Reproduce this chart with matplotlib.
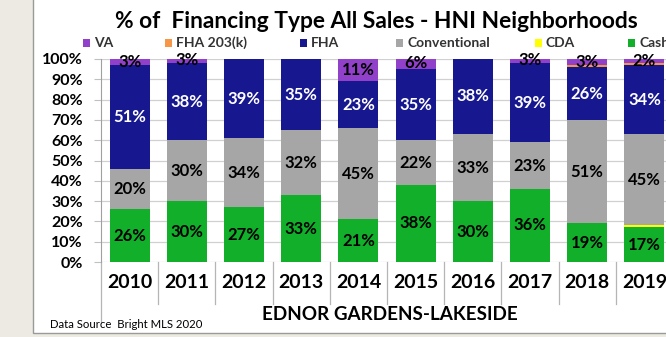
import numpy as np
import matplotlib
matplotlib.use("Agg")
import matplotlib.pyplot as plt
from matplotlib.patches import Rectangle
from matplotlib.transforms import blended_transform_factory

plt.rcParams['font.family'] = ['Lato', 'DejaVu Sans']

years = ['2010', '2011', '2012', '2013', '2014', '2015', '2016', '2017', '2018', '2019']
# percent of sales by financing type, stacked bottom to top
cash = [26, 30, 27, 33, 21, 38, 30, 36, 19, 17]
cda = [0, 0, 0, 0, 0, 0, 0, 0, 0, 1]
conventional = [20, 30, 34, 32, 45, 22, 33, 23, 51, 45]
fha = [51, 38, 39, 35, 23, 35, 38, 39, 26, 34]
fha203k = [0, 0, 0, 0, 0, 0, 0, 0, 1, 1]
va = [3, 3, 0, 0, 11, 6, 0, 3, 3, 2]

series = [
    ('Cash', cash, '#12AF2B', 'black'),
    ('CDA', cda, '#FFFF00', 'black'),
    ('Conventional', conventional, '#A6A6A6', 'black'),
    ('FHA', fha, '#17178F', 'white'),
    ('FHA 203(k)', fha203k, '#F79646', 'black'),
    ('VA', va, '#9140C9', 'black'),
]

W, H = 666, 337
fig = plt.figure(figsize=(W / 100, H / 100), dpi=100, facecolor='#ECEAE2')

def px(x, y):
    return x / W, 1 - y / H

# white chart panel
x0, y0 = px(33, 333)
fig.patches.append(Rectangle((x0, y0), 1.2 - x0, 1.2 - y0, transform=fig.transFigure,
                             facecolor='white', edgecolor='#9A9A9A', lw=1.0, zorder=-5))

left, top, bottom = 101, 59, 262
right = left + 57.2 * 10
ax = fig.add_axes([left / W, 1 - bottom / H, (right - left) / W, (bottom - top) / H])
ax.set_zorder(2)
ax.set_facecolor('white')

x = np.arange(len(years))
base = np.zeros(len(years))
for name, vals, color, tcol in series:
    vals = np.array(vals, dtype=float)
    ax.bar(x, vals, 0.7, bottom=base, color=color, zorder=2)
    for i, v in enumerate(vals):
        if v >= 2:
            ax.text(x[i], base[i] + v / 2, '%d%%' % v, ha='center', va='center',
                    color=tcol, fontsize=12, fontweight='bold', zorder=3)
    base += vals

ax.set_xlim(-0.5, len(years) - 0.5)
ax.set_ylim(0, 100)
ax.set_yticks(np.arange(0, 101, 10))
ax.set_yticklabels(['%d%%' % v for v in range(0, 101, 10)], fontsize=11.5, fontweight='bold')
ax.yaxis.grid(True, color='#D0D0D0', lw=0.9, zorder=1)
ax.tick_params(axis='y', length=5, color='#C0C0C0', pad=8)
ax.set_xticks([])
for s in ['top', 'right', 'bottom']:
    ax.spines[s].set_visible(False)
ax.spines['left'].set_color('#A0A0A0')

# category axis with separators
tr = blended_transform_factory(ax.transData, ax.transAxes)
sep_low = -(304 - bottom) / (bottom - top)
for k in range(len(years) + 1):
    ylo = -(322 - bottom) / (bottom - top) if k == 0 else sep_low
    ax.plot([k - 0.5, k - 0.5], [0, ylo], transform=tr, color='#B5B5B5', lw=0.9, clip_on=False)
for i, yr in enumerate(years):
    ax.text(i, -(282 - bottom) / (bottom - top), yr, transform=tr, ha='center', va='center',
            fontsize=14, fontweight='bold')

fig.text(*px(376, 21), '% of  Financing Type All Sales - HNI Neighborhoods', ha='center',
         va='center', fontsize=16.4, fontweight='bold')
fig.text(*px(390, 314), 'EDNOR GARDENS-LAKESIDE', ha='center', va='center',
         fontsize=13.6, fontweight='bold')
fig.text(*px(50, 325), 'Data Source  Bright MLS 2020', ha='left', va='center', fontsize=8.2)

# legend row
legend_pos = [('VA', 86), ('FHA 203(k)', 168), ('FHA', 303), ('Conventional', 399),
              ('CDA', 538), ('Cash', 631)]
colors = {name: color for name, vals, color, tcol in series}
for name, xp in legend_pos:
    sx, sy = px(xp - 3.5, 46.5)
    fig.patches.append(Rectangle((sx, sy), 7 / W, 7 / H, transform=fig.transFigure,
                                 facecolor=colors[name], edgecolor='none'))
    fig.text(*px(xp + 8, 43), name, ha='left', va='center', fontsize=10, fontweight='bold',
             color='#333333')

fig.savefig('out.png', dpi=100, facecolor=fig.get_facecolor())
